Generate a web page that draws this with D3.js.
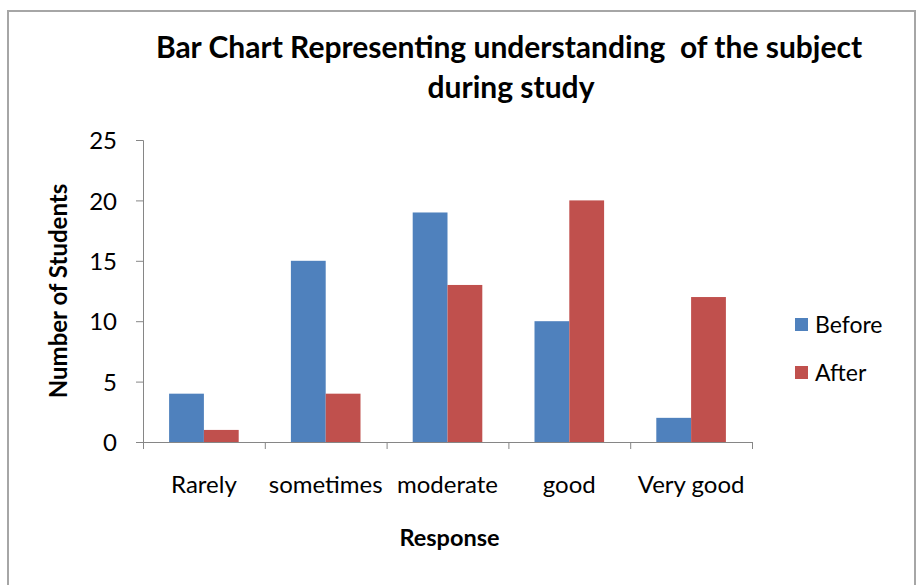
<!DOCTYPE html>
<html>
<head>
<meta charset="utf-8">
<script src="https://cdn.jsdelivr.net/npm/d3@7"></script>
<style>
  body { margin: 0; background: #fff; }
  svg { font-family: Lato, "Open Sans", sans-serif; }
  .axis path, .axis line { stroke: #868686; }
  .axis text { fill: #000; font-size: 24px; font-family: Lato, "Open Sans", sans-serif; }
</style>
</head>
<body>
<div id="chart"></div>
<script>
// chart data
const categories = ['Rarely', 'sometimes', 'moderate', 'good', 'Very good'];
const seriesNames = ['Before', 'After'];
const beforeValues = [4, 15, 19, 10, 2];
const afterValues = [1, 4, 13, 20, 12];
const yTicks = [0, 5, 10, 15, 20, 25];
const colors = ['#4F81BD', '#C0504D'];

const width = 917;
const height = 585;
const margin = { top: 140, right: 165, bottom: 143, left: 143 };
const innerW = width - margin.left - margin.right;
const innerH = height - margin.top - margin.bottom;

const rows = categories.map((c, i) => ({
  category: c,
  values: [
    { series: seriesNames[0], value: beforeValues[i] },
    { series: seriesNames[1], value: afterValues[i] },
  ],
}));

const svg = d3.select('#chart').append('svg')
  .attr('width', width)
  .attr('height', height);

// outer frame
svg.append('rect')
  .attr('x', 8)
  .attr('y', 11)
  .attr('width', 907)
  .attr('height', 600)
  .attr('fill', 'none')
  .attr('stroke', '#a6a6a6')
  .attr('stroke-width', 2);

const chart = svg.append('g')
  .attr('transform', `translate(${margin.left},${margin.top})`);

// gap width 150% like the spreadsheet default
const x0 = d3.scaleBand()
  .domain(categories)
  .range([0, innerW])
  .paddingInner(1.5 / 3.5)
  .paddingOuter(0.75 / 3.5);
const x1 = d3.scaleBand()
  .domain(seriesNames)
  .range([0, x0.bandwidth()]);
const xEdges = d3.scaleLinear()
  .domain([0, categories.length])
  .range([0, innerW]);
const y = d3.scaleLinear()
  .domain([0, 25])
  .range([innerH, 0]);
const color = d3.scaleOrdinal().domain(seriesNames).range(colors);

// y axis
chart.append('g')
  .attr('class', 'axis')
  .call(d3.axisLeft(y).tickValues(yTicks).tickSize(7).tickSizeOuter(7).tickPadding(19))
  .call((g) => g.selectAll('text').attr('dy', '0.36em'));

// bars
chart.append('g').selectAll('g')
  .data(rows)
  .join('g')
  .attr('transform', (d) => `translate(${x0(d.category)},0)`)
  .selectAll('rect')
  .data((d) => d.values)
  .join('rect')
  .attr('x', (d) => x1(d.series))
  .attr('y', (d) => y(d.value))
  .attr('width', x1.bandwidth())
  .attr('height', (d) => innerH - y(d.value))
  .attr('fill', (d) => color(d.series));

// x axis: tick marks on category edges, labels at centres
chart.append('g')
  .attr('class', 'axis')
  .attr('transform', `translate(0,${innerH})`)
  .call(d3.axisBottom(xEdges).ticks(categories.length).tickSize(7).tickSizeOuter(0).tickFormat(''));
chart.append('g')
  .attr('class', 'axis')
  .attr('transform', `translate(0,${innerH})`)
  .call(d3.axisBottom(x0).tickSize(0).tickPadding(34))
  .call((g) => g.select('.domain').remove());

// titles
const title = svg.append('text')
  .attr('x', 509)
  .attr('y', 58)
  .attr('text-anchor', 'middle')
  .attr('font-size', 30)
  .attr('font-weight', 'bold');
title.append('tspan').attr('x', 509).text('Bar Chart Representing understanding  of the subject').attr('xml:space', 'preserve');
title.append('tspan').attr('x', 511).attr('dy', 40).text('during study');

svg.append('text')
  .attr('transform', `translate(67,${margin.top + innerH / 2}) rotate(-90)`)
  .attr('text-anchor', 'middle')
  .attr('font-size', 24)
  .attr('font-weight', 'bold')
  .text('Number of Students');

svg.append('text')
  .attr('x', margin.left + innerW / 2 + 2)
  .attr('y', 546)
  .attr('text-anchor', 'middle')
  .attr('font-size', 23.5)
  .attr('font-weight', 'bold')
  .text('Response');

// legend
const legend = svg.append('g')
  .attr('transform', 'translate(795,318)')
  .selectAll('g')
  .data(seriesNames)
  .join('g')
  .attr('transform', (d, i) => `translate(0,${i * 48})`);
legend.append('rect')
  .attr('width', 13)
  .attr('height', 13)
  .attr('fill', (d) => color(d));
legend.append('text')
  .attr('x', 20)
  .attr('y', 15)
  .attr('font-size', 23)
  .text((d) => d);
</script>
</body>
</html>
